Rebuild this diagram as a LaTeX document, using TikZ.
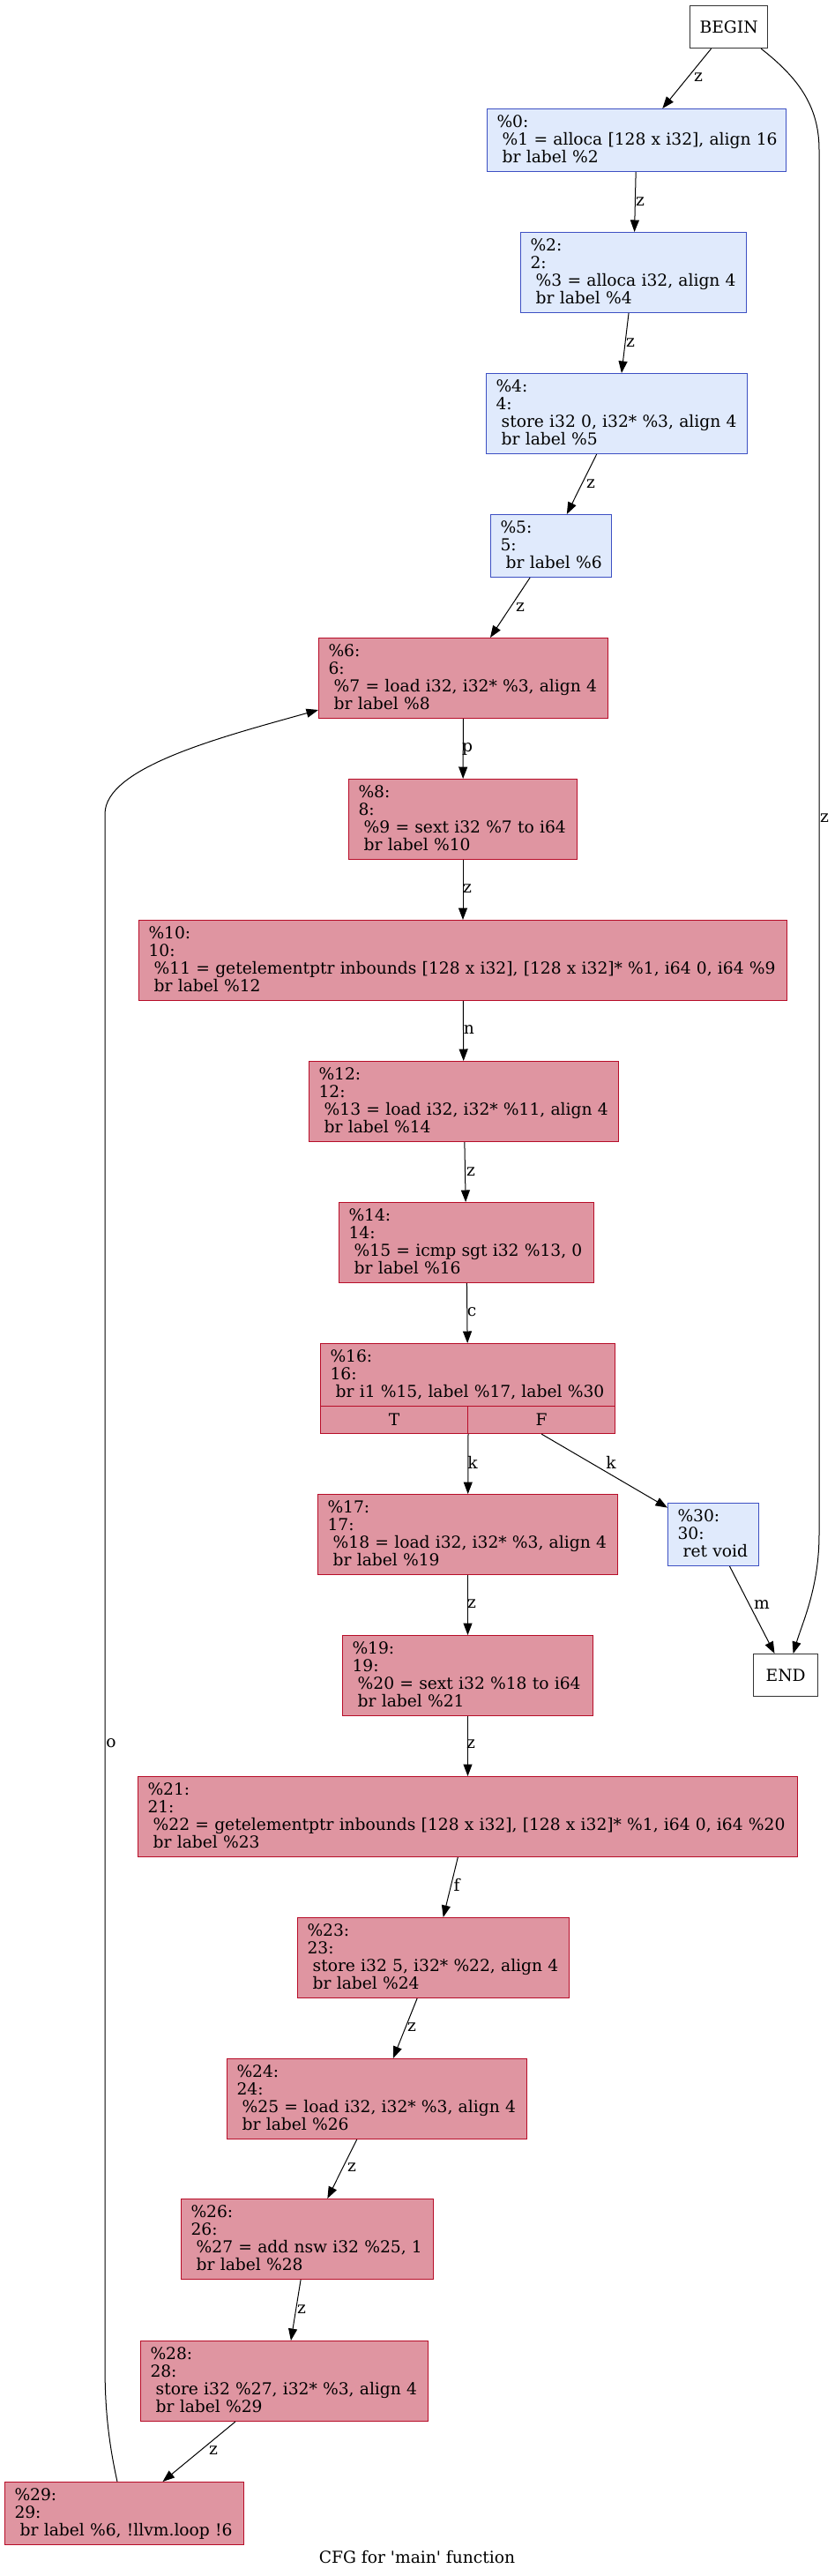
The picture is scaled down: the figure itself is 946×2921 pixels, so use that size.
\documentclass[tikz,border=0pt]{standalone}
\usepackage{fontspec}
\setmainfont{DejaVu Serif}[Ligatures=TeXOff]
\usetikzlibrary{arrows.meta,calc}
\definecolor{redfill}{HTML}{DF95A1}
\definecolor{redline}{HTML}{B70D28}
\definecolor{bluefill}{HTML}{E0EAFC}
\definecolor{blueline}{HTML}{3D50C3}
\tikzset{
  gv/.style={font=\fontsize{18.67}{20}\selectfont},
  blk/.style n args={3}{draw, line width=1pt, anchor=north west,
    minimum width=#1pt, minimum height=#2pt, text width=#3pt,
    inner xsep=11pt, inner ysep=0pt, align=left, gv,
    execute at begin node={\rule{0pt}{15pt}},
    execute at end node={\rule[-5pt]{0pt}{5pt}}},
  redbox/.style={fill=redfill, draw=redline},
  bluebox/.style={fill=bluefill, draw=blueline},
  termbox/.style={draw=black!80, line width=1.2pt, fill=white, anchor=north west, gv, inner sep=0pt},
  cell/.style={draw=redline, fill=redfill, line width=1pt, anchor=north west,
    minimum width=167pt, minimum height=31pt, inner sep=0pt, gv},
  cfgedge/.style={draw=black, line width=1pt, -{Triangle[length=13.5pt,width=10pt]}},
  lbl/.style={gv, inner sep=0pt},
}
\begin{document}
\begin{tikzpicture}[x=1pt, y=-1pt]
\useasboundingbox[fill=white] (0,0) rectangle (946,2921);

\node[termbox, minimum width=88pt, minimum height=48pt] (nbegin) at (782,6) {BEGIN};
\node[blk={339}{71}{317}, bluebox] (n0) at (552,123)
  {\mbox{\%0:}\\\mbox{\ \%1 = alloca [128 x i32], align 16}\\\mbox{\ br label \%2}};
\node[blk={256}{91}{234}, bluebox] (n2) at (590,263)
  {\mbox{\%2:}\\\mbox{2:}\\\mbox{\ \%3 = alloca i32, align 4}\\\mbox{\ br label \%4}};
\node[blk={296}{91}{274}, bluebox] (n4) at (551,423)
  {\mbox{\%4:}\\\mbox{4:}\\\mbox{\ store i32 0, i32* \%3, align 4}\\\mbox{\ br label \%5}};
\node[blk={137}{71}{115}, bluebox] (n5) at (556,583)
  {\mbox{\%5:}\\\mbox{5:}\\\mbox{\ br label \%6}};
\node[blk={328}{91}{306}, redbox] (n6) at (361,723)
  {\mbox{\%6:}\\\mbox{6:}\\\mbox{\ \%7 = load i32, i32* \%3, align 4}\\\mbox{\ br label \%8}};
\node[blk={259}{91}{237}, redbox] (n8) at (395,883)
  {\mbox{\%8:}\\\mbox{8:}\\\mbox{\ \%9 = sext i32 \%7 to i64}\\\mbox{\ br label \%10}};
\node[blk={735}{91}{713}, redbox] (n10) at (157,1043)
  {\mbox{\%10:}\\\mbox{10:}\\\mbox{\ \%11 = getelementptr inbounds [128 x i32], [128 x i32]* \%1, i64 0, i64 \%9}\\\mbox{\ br label \%12}};
\node[blk={351}{91}{329}, redbox] (n12) at (350,1203)
  {\mbox{\%12:}\\\mbox{12:}\\\mbox{\ \%13 = load i32, i32* \%11, align 4}\\\mbox{\ br label \%14}};
\node[blk={289}{91}{267}, redbox] (n14) at (384,1363)
  {\mbox{\%14:}\\\mbox{14:}\\\mbox{\ \%15 = icmp sgt i32 \%13, 0}\\\mbox{\ br label \%16}};
\node[blk={334}{71}{312}, redbox] (n16) at (363,1523)
  {\mbox{\%16:}\\\mbox{16:}\\\mbox{\ br i1 \%15, label \%17, label \%30}};
\node[cell] (n16t) at (363,1594) {T};
\node[cell] (n16f) at (530,1594) {F};
\node[blk={340}{91}{318}, redbox] (n17) at (360,1694)
  {\mbox{\%17:}\\\mbox{17:}\\\mbox{\ \%18 = load i32, i32* \%3, align 4}\\\mbox{\ br label \%19}};
\node[blk={103}{71}{81}, bluebox] (n30) at (757,1704)
  {\mbox{\%30:}\\\mbox{30:}\\\mbox{\ ret void}};
\node[termbox, minimum width=73pt, minimum height=48pt] (nend) at (854,1875) {END};
\node[blk={284}{91}{262}, redbox] (n19) at (388,1854)
  {\mbox{\%19:}\\\mbox{19:}\\\mbox{\ \%20 = sext i32 \%18 to i64}\\\mbox{\ br label \%21}};
\node[blk={748}{91}{726}, redbox] (n21) at (156,2014)
  {\mbox{\%21:}\\\mbox{21:}\\\mbox{\ \%22 = getelementptr inbounds [128 x i32], [128 x i32]* \%1, i64 0, i64 \%20}\\\mbox{\ br label \%23}};
\node[blk={308}{91}{286}, redbox] (n23) at (337,2174)
  {\mbox{\%23:}\\\mbox{23:}\\\mbox{\ store i32 5, i32* \%22, align 4}\\\mbox{\ br label \%24}};
\node[blk={340}{91}{318}, redbox] (n24) at (257,2334)
  {\mbox{\%24:}\\\mbox{24:}\\\mbox{\ \%25 = load i32, i32* \%3, align 4}\\\mbox{\ br label \%26}};
\node[blk={286}{91}{264}, redbox] (n26) at (205,2493)
  {\mbox{\%26:}\\\mbox{26:}\\\mbox{\ \%27 = add nsw i32 \%25, 1}\\\mbox{\ br label \%28}};
\node[blk={326}{91}{304}, redbox] (n28) at (159,2654)
  {\mbox{\%28:}\\\mbox{28:}\\\mbox{\ store i32 \%27, i32* \%3, align 4}\\\mbox{\ br label \%29}};
\node[blk={271}{71}{249}, redbox] (n29) at (5,2814)
  {\mbox{\%29:}\\\mbox{29:}\\\mbox{\ br label \%6, !llvm.loop !6}};

\node[gv] (cap) at (473,2900) {CFG for 'main' function};

% edges
\draw[cfgedge] (nbegin) -- (n0);
\draw[cfgedge] (n0) -- (n2);
\draw[cfgedge] (n2) -- (n4);
\draw[cfgedge] (n4) -- (n5);
\draw[cfgedge] (n5) -- (n6);
\draw[cfgedge] (n6) -- (n8);
\draw[cfgedge] (n8) -- (n10);
\draw[cfgedge] (n10) -- (n12);
\draw[cfgedge] (n12) -- (n14);
\draw[cfgedge] (n14) -- (n16);
\draw[cfgedge] (n16t.south east) -- (n17);
\draw[cfgedge] (n16f.south) -- (n30);
\draw[cfgedge] (n30) -- (nend);
\draw[cfgedge] (n17) -- (n19);
\draw[cfgedge] (n19) -- (n21);
\draw[cfgedge] (n21) -- (n23);
\draw[cfgedge] (n23) -- (n24);
\draw[cfgedge] (n24) -- (n26);
\draw[cfgedge] (n26) -- (n28);
\draw[cfgedge] (n28) -- (n29);
\draw[cfgedge] ($(nbegin.south east)+(-8,0)$) .. controls (905,88) and (929,120) .. (929,170)
  -- (929,1740) .. controls (929,1800) and (910,1840) .. ($(nend.north)+(8.5,0)$);
\draw[cfgedge] ($(n29.north)+(-8,0)$) .. controls (121,2760) and (119,2720) .. (119,2680)
  -- (119,923) .. controls (119,870) and (250,836) .. ($(n6.south west)+(0,-10)$);

% edge labels
\node[lbl] (l1) at (792,88) {z};
\node[lbl] (l2) at (935,928) {z};
\node[lbl] (l3) at (726,229) {z};
\node[lbl] (l4) at (715,389) {z};
\node[lbl] (l5) at (670,549) {z};
\node[lbl] (l6) at (590,689) {z};
\node[lbl] (l7) at (530,849) {p};
\node[lbl] (l8) at (530,1008) {z};
\node[lbl] (l9) at (532,1168) {n};
\node[lbl] (l10) at (534,1329) {z};
\node[lbl] (l11) at (535,1488) {c};
\node[lbl] (l12) at (536,1658) {k};
\node[lbl] (l13) at (693,1658) {k};
\node[lbl] (l14) at (535,1819) {z};
\node[lbl] (l15) at (864,1819) {m};
\node[lbl] (l16) at (534,1978) {z};
\node[lbl] (l17) at (518,2137) {f};
\node[lbl] (l18) at (467,2299) {z};
\node[lbl] (l19) at (399,2458) {z};
\node[lbl] (l20) at (342,2619) {z};
\node[lbl] (l21) at (242,2779) {z};
\node[lbl] (l22) at (126,1977) {o};
\end{tikzpicture}
\end{document}
